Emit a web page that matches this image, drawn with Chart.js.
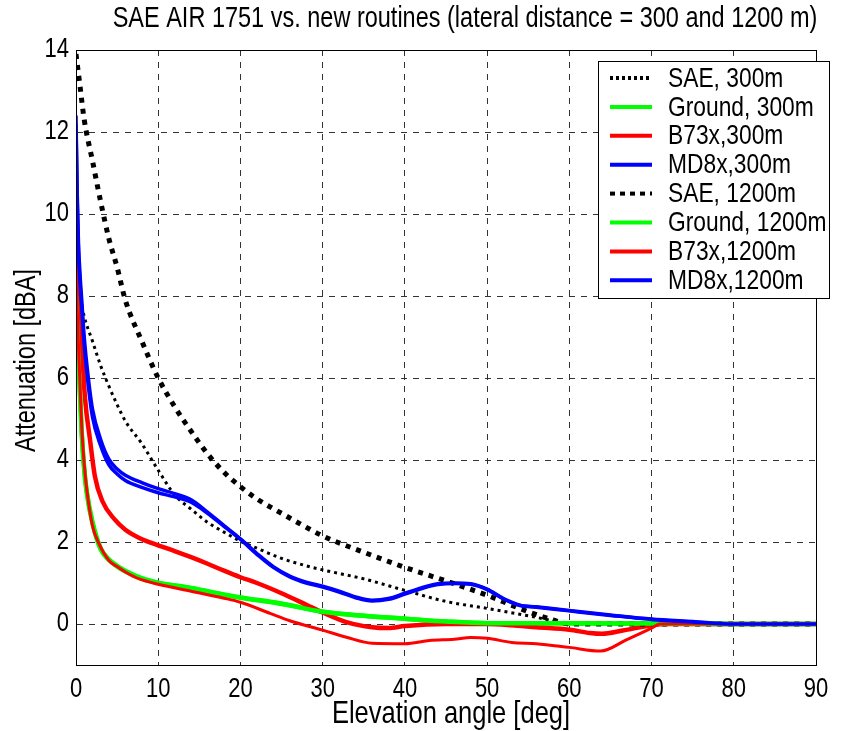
<!DOCTYPE html>
<html>
<head>
<meta charset="utf-8">
<script src="https://cdn.jsdelivr.net/npm/chart.js@4.4.1/dist/chart.umd.min.js"></script>
<style>
  html, body { margin: 0; padding: 0; background: #fff; }
  #wrap { width: 847px; height: 731px; position: relative; }
</style>
</head>
<body>
<div id="wrap"><canvas id="c" width="847" height="731"></canvas></div>
<script>
// ---------- data ----------
const chartTitle = 'SAE AIR 1751 vs. new routines (lateral distance = 300 and 1200 m)';
const xTitle = 'Elevation angle [deg]';
const yTitle = 'Attenuation [dBA]';
const xTicks = [0, 10, 20, 30, 40, 50, 60, 70, 80, 90];
const yTicks = [0, 2, 4, 6, 8, 10, 12, 14];
const seriesNames = ['SAE, 300m', 'Ground, 300m', 'B73x,300m', 'MD8x,300m',
                     'SAE, 1200m', 'Ground, 1200m', 'B73x,1200m', 'MD8x,1200m'];

const sae300Angles = [0, 0.5, 1, 2, 3, 4, 5, 6, 8, 10, 12, 14, 16, 18, 20, 22, 25, 28, 30, 35, 40, 45, 50, 55, 58, 60, 70, 80, 90];
const sae300Values = [8.6, 8.0, 7.5, 6.9, 6.3, 5.8, 5.35, 4.95, 4.4, 3.75, 3.15, 2.8, 2.48, 2.24, 2.02, 1.85, 1.6, 1.42, 1.32, 1.1, 0.82, 0.55, 0.38, 0.2, 0.08, 0, 0, 0, 0];

const ground300Angles = [0, 0.3, 0.7, 1, 1.3, 2, 3, 4, 5, 6, 8, 10, 14, 18, 20, 25, 30, 35, 40, 45, 50, 60, 70, 80, 90];
const ground300Values = [8.2, 6.6, 4.7, 3.8, 3.25, 2.5, 1.85, 1.58, 1.42, 1.3, 1.12, 1.01, 0.88, 0.72, 0.65, 0.5, 0.3, 0.2, 0.13, 0.06, 0.02, 0.02, 0.01, 0, 0];

const b73x300Angles = [0, 0.3, 0.7, 1.1, 1.7, 2.3, 3.2, 4.7, 6, 7.7, 10, 12, 14, 16, 18, 20, 22, 25, 28, 30, 33, 36, 38, 40, 45, 50, 53, 56, 60, 62.5, 64, 66.5, 70, 72, 80, 90];
const b73x300Values = [9.5, 8.0, 6.8, 5.5, 4.5, 3.6, 3.0, 2.55, 2.3, 2.1, 1.92, 1.78, 1.63, 1.47, 1.3, 1.14, 1.0, 0.75, 0.47, 0.28, 0.04, -0.08, -0.1, -0.05, 0, 0, -0.03, -0.08, -0.14, -0.22, -0.24, -0.16, -0.03, 0, 0, 0];

const md8x300Angles = [0, 0.15, 0.3, 0.5, 0.7, 1, 1.5, 2, 3, 4, 5, 6, 8, 10, 12, 14, 16, 18, 20, 22, 24, 26, 28, 30, 32, 34, 36, 38, 40, 42, 44, 46, 48, 50, 52, 54, 56, 60, 65, 70, 75, 80, 90];
const md8x300Values = [12.4, 10.5, 9.3, 8.5, 7.9, 7.0, 6.0, 5.25, 4.5, 4.02, 3.78, 3.63, 3.45, 3.3, 3.18, 3.03, 2.73, 2.4, 2.08, 1.72, 1.4, 1.17, 1.02, 0.92, 0.8, 0.66, 0.58, 0.62, 0.75, 0.88, 0.98, 1.0, 0.98, 0.85, 0.62, 0.46, 0.42, 0.33, 0.22, 0.12, 0.06, 0, 0];

const sae1200Angles = [0, 0.5, 1, 2, 3, 4, 5, 6, 8, 10, 12, 14, 16, 18, 20, 22, 25, 30, 35, 40, 45, 50, 55, 58, 60, 70, 80, 90];
const sae1200Values = [13.9, 13.1, 12.3, 11.3, 10.3, 9.4, 8.7, 7.9, 6.9, 6.0, 5.3, 4.7, 4.15, 3.7, 3.35, 3.05, 2.7, 2.15, 1.75, 1.38, 1.05, 0.7, 0.3, 0.1, 0, 0, 0, 0];

const ground1200Angles = [0, 0.3, 0.7, 1, 1.3, 2, 3, 4, 5, 6, 8, 10, 14, 18, 20, 25, 30, 35, 40, 45, 50, 60, 70, 80, 90];
const ground1200Values = [8.0, 6.4, 4.6, 3.75, 3.2, 2.45, 1.82, 1.56, 1.4, 1.28, 1.1, 1.0, 0.87, 0.71, 0.64, 0.49, 0.3, 0.2, 0.13, 0.06, 0.02, 0.02, 0.01, 0, 0];

const b73x1200Angles = [0, 0.3, 0.7, 1, 1.3, 2, 2.8, 4, 5, 6, 7.7, 10, 14, 18, 20, 23.6, 26, 30, 33, 36, 40, 43, 46, 48, 50, 53, 56, 60, 63.8, 67, 70, 71, 80, 90];
const b73x1200Values = [8.5, 6.8, 4.8, 3.9, 3.3, 2.4, 1.96, 1.55, 1.4, 1.27, 1.1, 0.97, 0.8, 0.63, 0.53, 0.26, 0.08, -0.15, -0.33, -0.47, -0.48, -0.4, -0.37, -0.33, -0.35, -0.45, -0.48, -0.57, -0.66, -0.38, -0.1, 0, 0, 0];

const md8x1200Angles = md8x300Angles;
const md8x1200Values = [12.2, 10.3, 9.1, 8.3, 7.7, 6.8, 5.8, 5.05, 4.35, 3.88, 3.66, 3.5, 3.33, 3.2, 3.1, 2.97, 2.7, 2.38, 2.06, 1.7, 1.38, 1.15, 1.0, 0.9, 0.78, 0.64, 0.56, 0.6, 0.73, 0.86, 0.96, 0.99, 0.97, 0.84, 0.61, 0.45, 0.41, 0.32, 0.21, 0.11, 0.05, 0, 0];

// ---------- build ----------
const FONT = "'Liberation Sans', Arial, sans-serif";
const STRETCH = 1.22;   // reference text is drawn taller than wide
function pts(xs, ys) { return xs.map((x, i) => ({ x: x, y: ys[i] })); }

const styles = [
  { color: '#000000', width: 3, dash: [3, 4] },
  { color: '#00ff00', width: 4.5, dash: [] },
  { color: '#ff0000', width: 4.5, dash: [] },
  { color: '#0000ff', width: 3.5, dash: [] },
  { color: '#000000', width: 5, dash: [5, 6] },
  { color: '#00ff00', width: 4.5, dash: [] },
  { color: '#ff0000', width: 3, dash: [] },
  { color: '#0000ff', width: 3.5, dash: [] }
];
const legendStyles = [
  { color: '#000000', width: 4, dash: [3, 3] },
  { color: '#00ff00', width: 4, dash: [] },
  { color: '#ff0000', width: 4, dash: [] },
  { color: '#0000ff', width: 4, dash: [] },
  { color: '#000000', width: 4, dash: [5, 5] },
  { color: '#00ff00', width: 4, dash: [] },
  { color: '#ff0000', width: 4, dash: [] },
  { color: '#0000ff', width: 4, dash: [] }
];
const seriesData = [
  pts(sae300Angles, sae300Values),
  pts(ground300Angles, ground300Values),
  pts(b73x300Angles, b73x300Values),
  pts(md8x300Angles, md8x300Values),
  pts(sae1200Angles, sae1200Values),
  pts(ground1200Angles, ground1200Values),
  pts(b73x1200Angles, b73x1200Values),
  pts(md8x1200Angles, md8x1200Values)
];

const datasets = seriesNames.map((name, i) => ({
  label: name,
  data: seriesData[i],
  borderColor: styles[i].color,
  borderWidth: styles[i].width,
  borderDash: styles[i].dash,
  borderCapStyle: 'butt',
  pointRadius: 0,
  fill: false,
  cubicInterpolationMode: 'monotone',
  order: seriesNames.length - i
}));

function stretchedText(ctx, str, x, y, size, align, rot) {
  ctx.save();
  ctx.translate(x, y);
  if (rot) ctx.rotate(rot);
  ctx.scale(1, STRETCH);
  ctx.font = size + 'px ' + FONT;
  ctx.textAlign = align;
  ctx.textBaseline = 'middle';
  ctx.fillStyle = '#000';
  ctx.fillText(str, 0, 0);
  ctx.restore();
}

const overlay = {
  id: 'overlay',
  afterDraw(chart) {
    const ctx = chart.ctx, a = chart.chartArea;
    const xs = chart.scales.x, ys = chart.scales.y;
    ctx.save();
    // axes box
    ctx.strokeStyle = '#000';
    ctx.lineWidth = 1;
    ctx.setLineDash([]);
    ctx.strokeRect(a.left + 0.5, a.top + 0.5, a.right - a.left, a.bottom - a.top);
    // tick labels through the chart scales
    xTicks.forEach(v => stretchedText(ctx, String(v), xs.getPixelForValue(v), 690, 22, 'center'));
    yTicks.forEach(v => stretchedText(ctx, String(v), a.left - 7, ys.getPixelForValue(v), 22, 'right'));
    // titles
    stretchedText(ctx, chartTitle, 465, 19, 23.5, 'center');
    stretchedText(ctx, xTitle, 451, 714, 25.5, 'center');
    stretchedText(ctx, yTitle, 27, (a.top + a.bottom) / 2 + 3, 23.5, 'center', -Math.PI / 2);
    // legend
    const lx = 598, ly = 61, lw = 231, lh = 237;
    ctx.fillStyle = '#fff';
    ctx.fillRect(lx, ly, lw, lh);
    ctx.strokeStyle = '#000';
    ctx.lineWidth = 1;
    ctx.strokeRect(lx + 0.5, ly + 0.5, lw, lh);
    seriesNames.forEach((name, i) => {
      const y = 78 + i * 28.9;
      const s = legendStyles[i];
      ctx.beginPath();
      ctx.strokeStyle = s.color;
      ctx.lineWidth = s.width;
      ctx.lineCap = 'butt';
      ctx.setLineDash(s.dash);
      ctx.moveTo(610, y);
      ctx.lineTo(652, y);
      ctx.stroke();
      ctx.setLineDash([]);
      stretchedText(ctx, name, 668, y + 1, 22.8, 'left');
    });
    ctx.restore();
  }
};

new Chart(document.getElementById('c'), {
  type: 'line',
  data: { datasets: datasets },
  options: {
    responsive: false,
    animation: false,
    layout: { padding: { left: 0, top: 50, right: 31, bottom: 0 } },
    plugins: { legend: { display: false }, tooltip: { enabled: false }, title: { display: false } },
    scales: {
      x: {
        type: 'linear', min: 0, max: 90,
        afterBuildTicks: s => { s.ticks = xTicks.map(v => ({ value: v })); },
        afterFit: s => { s.height = 66; },
        grid: { color: '#333', lineWidth: 1, drawTicks: false },
        border: { display: true, color: '#000', width: 1, dash: [6, 6] },
        ticks: { display: false }
      },
      y: {
        type: 'linear', min: -1, max: 14,
        afterBuildTicks: s => { s.ticks = yTicks.map(v => ({ value: v })); },
        afterFit: s => { s.width = 76; },
        grid: { color: '#333', lineWidth: 1, drawTicks: false },
        border: { display: true, color: '#000', width: 1, dash: [6, 6] },
        ticks: { display: false }
      }
    }
  },
  plugins: [overlay]
});
</script>
</body>
</html>
